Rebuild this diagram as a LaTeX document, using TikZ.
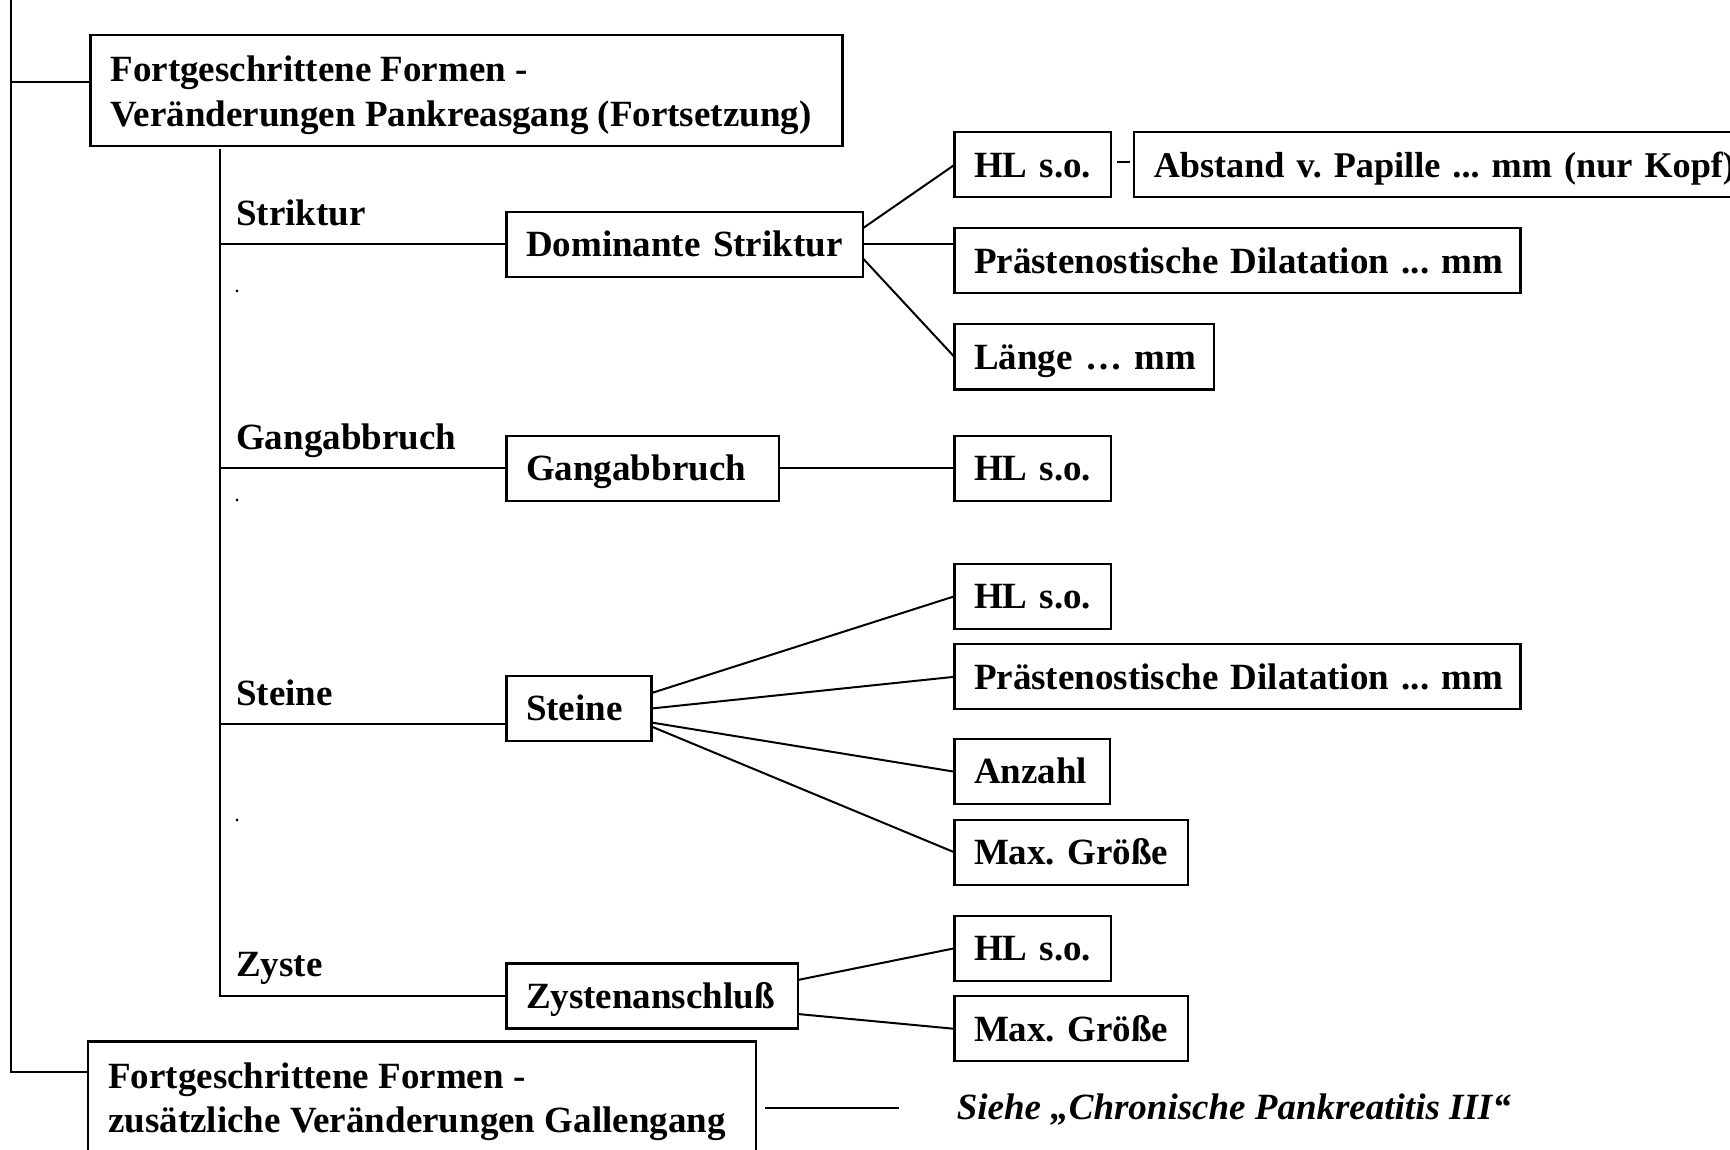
\documentclass[tikz,border=0pt]{standalone}
\usepackage{fontspec}
\setmainfont{Liberation Serif}
\frenchspacing
\begin{document}
\begin{tikzpicture}[x=1pt,y=-1pt,
  link/.style={line width=2pt},
  boxed/.style={draw, line width=2.2pt, anchor=north west, outer sep=0pt,
    inner xsep=19.6pt, inner ysep=0pt, minimum height=65pt, align=left,
    text height=24.5pt, text depth=0pt, font=\fontsize{37}{44}\selectfont\bfseries\frenchspacing},
  bw/.style={text width={#1pt-39.2pt}},
  frame/.style={draw, line width=2.2pt, anchor=north west, outer sep=0pt, inner sep=0pt},
  textline/.style={anchor=base west, inner sep=0pt, font=\fontsize{37}{44}\selectfont\bfseries\frenchspacing},
  tick/.style={anchor=base, inner sep=0pt, font=\fontsize{16}{18}\selectfont\bfseries},
]
\useasboundingbox (0,0) rectangle (1730,1150);
\clip (0,0) rectangle (1730,1150);

% --- header boxes ---------------------------------------------------------
\node[frame, minimum width=752pt, minimum height=110.7pt] (top) at (90.5,35.3) {};
\node[textline] (top l1) at (110.3,82) {Fortgeschrittene Formen -};
\node[textline] (top l2) at (110.3,126.5) {Veränderungen Pankreasgang (Fortsetzung)};

\node[frame, minimum width=667.5pt, minimum height=200pt] (bot) at (88.3,1041.5) {};
\node[textline] (bot l1) at (108.1,1088.5) {Fortgeschrittene Formen -};
\node[textline] (bot l2) at (108.1,1132.5) {zusätzliche Veränderungen Gallengang};

% --- main trunk -----------------------------------------------------------
\coordinate (trunk top) at (11,0);
\coordinate (trunk tap) at (11,82.5);
\coordinate (trunk foot) at (11,1071.5);
\draw[link] (trunk top) -- (trunk foot) -- (trunk foot -| bot.west);
\draw[link] (trunk tap) -- (trunk tap -| top.west);

% --- second level boxes ---------------------------------------------------
\node[boxed, bw=356.4] (dom) at (506.4,211.8) {\mbox{Dominante Striktur}};
\node[boxed, bw=272.6] (gang) at (506.4,435.8) {\mbox{Gangabbruch}};
\node[boxed, bw=145] (steine) at (506.4,676) {\mbox{Steine}};
\node[boxed, bw=291.3] (zyst) at (506.4,963.5) {\mbox{Zystenanschluß}};

% --- branch labels and marks ----------------------------------------------
\node[textline] (lab strikt) at (236,225.3) {Striktur};
\node[textline] (lab gang) at (236,449.3) {Gangabbruch};
\node[textline] (lab steine) at (236,705) {Steine};
\node[textline] (lab zyste) at (236,976.5) {Zyste};
\node[tick] (mark a) at (237,293) {.};
\node[tick] (mark b) at (237,501) {.};
\node[tick] (mark c) at (237,821) {.};

% --- branch line ----------------------------------------------------------
\coordinate (branch top) at (219.6,149);
\coordinate (steine in) at ([yshift=-15pt]steine.west);
\draw[link] (branch top) |- (zyst.west);
\draw[link] (branch top |- dom.west) -- (dom.west);
\draw[link] (branch top |- gang.west) -- (gang.west);
\draw[link] (branch top |- steine in) -- (steine in);

% --- Striktur details -----------------------------------------------------
\node[boxed, bw=156.6] (hl1) at (954.4,132.4) {\mbox{HL s.o.}};
\node[boxed, bw=640, font=\fontsize{36.2}{44}\selectfont\bfseries\frenchspacing]
  (abst) at (1134.2,132.4) {\mbox{Abstand v. Papille ... mm (nur Kopf)}};
\node[boxed, bw=566] (prast1) at (954.4,228.4) {\mbox{Prästenostische Dilatation ... mm}};
\node[boxed, bw=259.3] (laenge) at (954.4,324.4) {\mbox{Länge … mm}};
\draw[link] ([xshift=6pt,yshift=3pt]hl1.east) -- ([xshift=-4pt,yshift=3pt]abst.west);
\coordinate (dom up) at ([yshift=16pt]dom.east);
\coordinate (dom down) at ([yshift=-14pt]dom.east);
\draw[link] (dom up) -- (hl1.west);
\draw[link] (dom.east) -- (dom.east -| prast1.west);
\draw[link] (dom down) -- (laenge.west);

% --- Gangabbruch details --------------------------------------------------
\node[boxed, bw=156.6] (hl2) at (954.4,435.8) {\mbox{HL s.o.}};
\draw[link] (gang.east) -- (hl2.west);

% --- Steine details -------------------------------------------------------
\node[boxed, bw=156.6] (hl3) at (954.4,563.8) {\mbox{HL s.o.}};
\node[boxed, bw=566] (prast2) at (954.4,644.3) {\mbox{Prästenostische Dilatation ... mm}};
\node[boxed, bw=155.6] (anzahl) at (954.4,739.2) {\mbox{Anzahl}};
\node[boxed, bw=233.9] (max1) at (954.4,819.8) {\mbox{Max. Größe}};
\coordinate (st a) at ([yshift=15.4pt]steine.east);
\coordinate (st c) at ([yshift=-14pt]steine.east);
\coordinate (st d) at ([yshift=-18pt]steine.east);
\draw[link] (st a) -- (hl3.west);
\draw[link] (steine.east) -- (prast2.west);
\draw[link] (st c) -- (anzahl.west);
\draw[link] (st d) -- (max1.west);

% --- Zyste details --------------------------------------------------------
\node[boxed, bw=156.6] (hl4) at (954.4,915.8) {\mbox{HL s.o.}};
\node[boxed, bw=233.9] (max2) at (954.4,996.3) {\mbox{Max. Größe}};
\coordinate (zy a) at ([yshift=16pt]zyst.east);
\coordinate (zy b) at ([yshift=-18pt]zyst.east);
\draw[link] (zy a) -- (hl4.west);
\draw[link] (zy b) -- (max2.west);

% --- reference to part III ------------------------------------------------
\node[anchor=base west, inner sep=0pt, font=\fontsize{37}{44}\selectfont\bfseries\itshape\frenchspacing]
  (siehe) at (956.6,1119) {Siehe „Chronische Pankreatitis III“};
\coordinate (lead end) at ([xshift=-57.6pt,yshift=11.3pt]siehe.base west);
\path (bot.east |- lead end) ++(9.2,0) coordinate (lead start);
\draw[link] (lead start) -- (lead end);
\end{tikzpicture}
\end{document}
